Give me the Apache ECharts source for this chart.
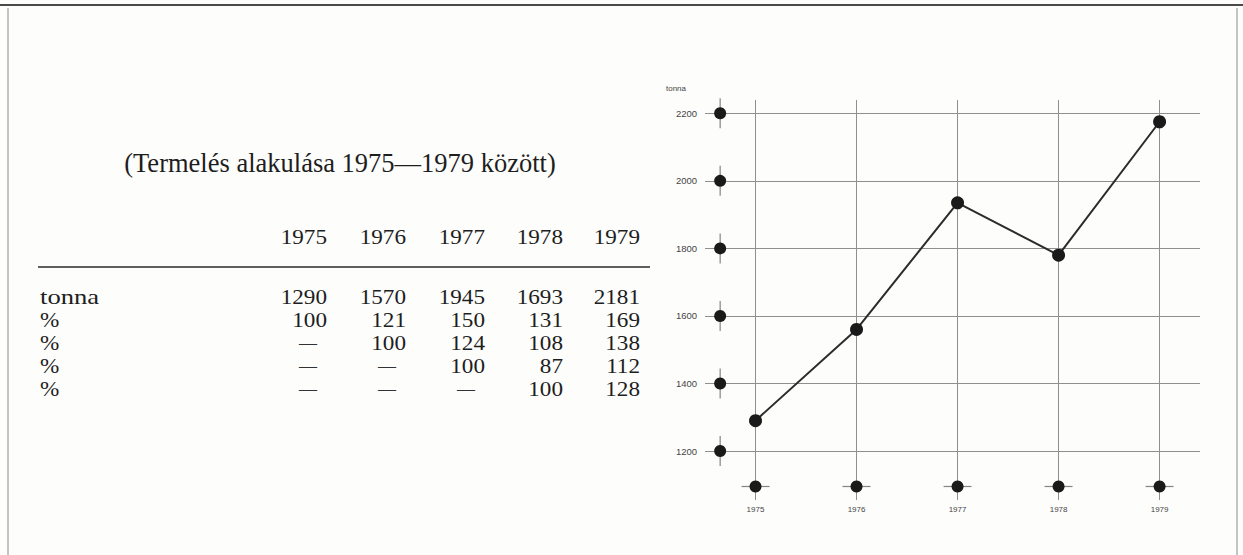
<!DOCTYPE html>
<html>
<head>
<meta charset="utf-8">
<script src="https://cdn.jsdelivr.net/npm/echarts@6/dist/echarts.min.js"></script>
<style>
html,body{margin:0;padding:0;background:#fdfdfc;}
#main{width:1243px;height:555px;}
</style>
</head>
<body>
<div id="main"></div>
<script>
// ---- data ----
const title = '(Termelés alakulása 1975—1979 között)';
const years = [1975, 1976, 1977, 1978, 1979];
const rowLabels = ['tonna', '%', '%', '%', '%'];
const tonnaRow = ['1290', '1570', '1945', '1693', '2181'];
const pctRow1 = ['100', '121', '150', '131', '169'];
const pctRow2 = ['—', '100', '124', '108', '138'];
const pctRow3 = ['—', '—', '100', '87', '112'];
const pctRow4 = ['—', '—', '—', '100', '128'];
// values as plotted in the graph
const plotted = [1290, 1560, 1935, 1780, 2175];
const yTicks = [1200, 1400, 1600, 1800, 2000, 2200];
const yName = 'tonna';

// ---- layout ----
const colRight = [327, 406, 485, 563, 640];
const rowY = [297, 320, 343, 366, 389];
const serif = 'Liberation Serif, Times New Roman, serif';
const sans = 'Liberation Sans, Arial, sans-serif';
const tableSize = 20.5;
const widen = 1.13;
const tickX = 1974.65;   // x position (in axis units) of the y tick dots
const baseY = 1095;      // y position (in axis units) of the bottom year dots

function txt(x, y, text, size, align, fill, family, sx) {
  return {type:'text', x:x, y:y, z:10, scaleX: sx || 1, style:{text:text, fontFamily:family || serif, fontSize:size,
    fill:fill || '#1e1e1e', align:align, verticalAlign:'middle'}};
}

const graphics = [];
// page frame
graphics.push({type:'line', shape:{x1:0,y1:5,x2:1243,y2:5}, style:{stroke:'#4a4a4a', lineWidth:2}});
graphics.push({type:'line', shape:{x1:8,y1:8,x2:8,y2:555}, style:{stroke:'#8a8a8a', lineWidth:1}});
graphics.push({type:'line', shape:{x1:1237,y1:8,x2:1237,y2:555}, style:{stroke:'#8a8a8a', lineWidth:1}});
// table title
graphics.push(txt(340, 163, title, 26.5, 'center'));
// header years
years.forEach((y, i) => graphics.push(txt(colRight[i], 237, String(y), tableSize, 'right', null, null, widen)));
// rule under header
graphics.push({type:'line', shape:{x1:38,y1:267,x2:650,y2:267}, style:{stroke:'#2a2a2a', lineWidth:1.5}});
// rows
const rows = [tonnaRow, pctRow1, pctRow2, pctRow3, pctRow4];
rows.forEach((row, r) => {
  graphics.push(txt(40, rowY[r], rowLabels[r], tableSize, 'left', null, null, r === 0 ? 1.3 : widen));
  row.forEach((v, c) => {
    if (v === '—') {
      graphics.push(txt(colRight[c] - 19, rowY[r], v, 18, 'center', '#333'));
    } else {
      graphics.push(txt(colRight[c], rowY[r], v, tableSize, 'right', null, null, widen));
    }
  });
});
// axis name
graphics.push(txt(666, 88, yName, 8, 'left', '#444', sans));

const chart = echarts.init(document.getElementById('main'), null, {renderer:'svg'});
const gridColor = '#8f8f8f';
const dotColor = '#1a1a1a';
chart.setOption({
  animation: false,
  backgroundColor: '#fdfdfc',
  grid: {left: 705, right: 43, top: 100, bottom: 55},
  xAxis: {type:'value', min:1974.5, max:1979.4, show:false},
  yAxis: {type:'value', min:1055, max:2239.4, show:false},
  graphic: graphics,
  series: [
    {
      type:'scatter', data:[], silent:true, z:1,
      markLine:{
        silent:true, symbol:'none', animation:false, z:1,
        label:{show:false},
        lineStyle:{color:gridColor, width:1, type:'solid'},
        data: yTicks.map(v => ({yAxis:v})).concat(years.map(y => ({xAxis:y})))
      }
    },
    {
      type:'scatter', silent:true, symbol:'rect', symbolSize:[1.2, 30], z:3,
      itemStyle:{color:'#666'},
      data: yTicks.map(v => [tickX, v])
    },
    {
      type:'scatter', silent:true, symbol:'circle', symbolSize:12, z:5,
      itemStyle:{color:dotColor, opacity:1},
      label:{show:true, position:'left', distance:17, formatter:p => String(p.value[1]),
             color:'#444', fontFamily:sans, fontSize:9.5},
      data: yTicks.map(v => [tickX, v])
    },
    {
      type:'scatter', silent:true, symbol:'rect', symbolSize:[28, 1.2], z:3,
      itemStyle:{color:'#666'},
      data: years.map(y => [y, baseY])
    },
    {
      type:'scatter', silent:true, symbol:'circle', symbolSize:12, z:5,
      itemStyle:{color:dotColor, opacity:1},
      label:{show:true, position:'bottom', distance:13, formatter:p => String(p.value[0]),
             color:'#444', fontFamily:sans, fontSize:8},
      data: years.map(y => [y, baseY])
    },
    {
      type:'line', silent:true, symbol:'circle', symbolSize:13, z:6,
      lineStyle:{color:'#2b2b2b', width:2},
      itemStyle:{color:dotColor},
      data: years.map((y, i) => [y, plotted[i]])
    }
  ]
});
</script>
</body>
</html>
